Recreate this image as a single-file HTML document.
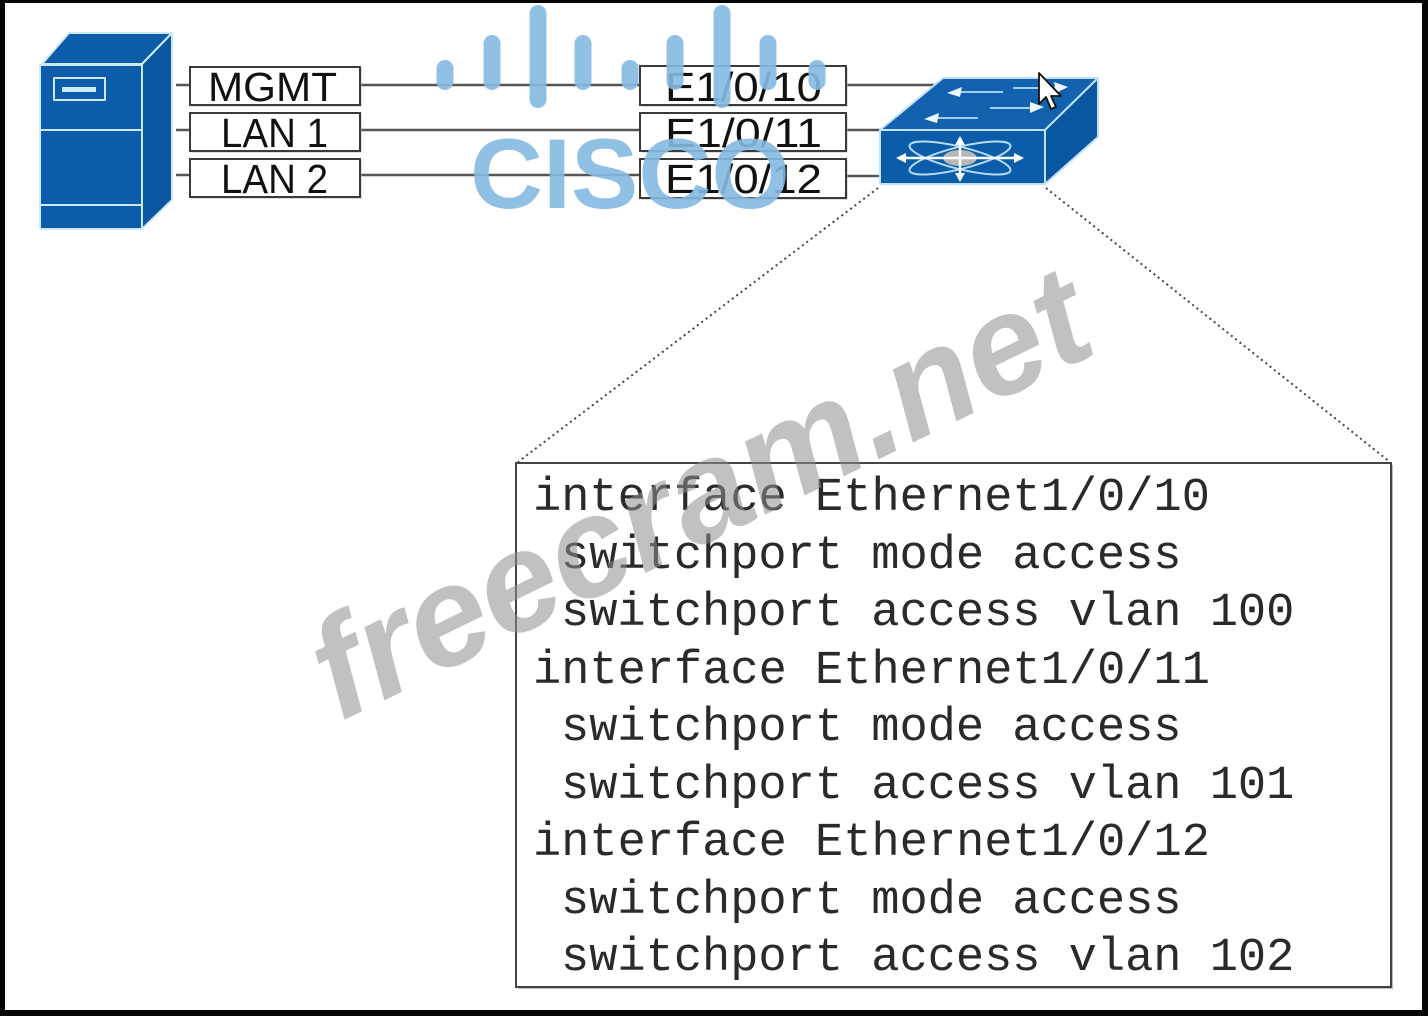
<!DOCTYPE html>
<html><head><meta charset="utf-8"><style>
html,body{margin:0;padding:0;background:#000;}
body{width:1428px;height:1016px;overflow:hidden;}
svg{display:block;}
.code text{white-space:pre;}
</style></head><body>
<svg width="1428" height="1016" viewBox="0 0 1428 1016" xmlns="http://www.w3.org/2000/svg">
<rect x="0" y="0" width="1428" height="1016" fill="#050505"/>
<rect x="5" y="3" width="1417" height="1007" fill="#ffffff"/>

<!-- connecting lines -->
<g stroke="#555" stroke-width="2.5" fill="none">
<line x1="176" y1="85" x2="190" y2="85"/>
<line x1="176" y1="130" x2="190" y2="130"/>
<line x1="176" y1="175" x2="190" y2="175"/>
<line x1="360" y1="85" x2="640" y2="85"/>
<line x1="360" y1="130" x2="640" y2="130"/>
<line x1="360" y1="175" x2="640" y2="175"/>
<line x1="846" y1="85" x2="934" y2="85"/>
<line x1="846" y1="130" x2="880" y2="130"/>
<line x1="846" y1="176" x2="880" y2="176"/>
</g>

<!-- server -->
<g stroke="#cfe8f8" stroke-width="2" stroke-linejoin="round">
<polygon points="42,64 69,33 172,33 142,64" fill="#0b5ca9"/>
<rect x="40" y="65" width="102" height="164" fill="#0b5ca9"/>
<polygon points="142,64 172,33 172,200 142,229" fill="#0a56a0"/>
<line x1="40" y1="130" x2="142" y2="130"/>
<line x1="40" y1="205" x2="142" y2="205"/>
<rect x="54" y="78" width="51" height="22" fill="#0b5ca9"/>
<rect x="62" y="87" width="34" height="5" fill="#cfe8f8" stroke="none"/>
</g>

<!-- label boxes -->
<g fill="#fff" stroke="#3a3a3a" stroke-width="2">
<rect x="191.5" y="68.5" width="170" height="38" fill="#bbb" stroke="none"/>
<rect x="190" y="67" width="170" height="38"/>
<rect x="191.5" y="114.5" width="170" height="38" fill="#bbb" stroke="none"/>
<rect x="190" y="113" width="170" height="38"/>
<rect x="191.5" y="160.5" width="170" height="38" fill="#bbb" stroke="none"/>
<rect x="190" y="159" width="170" height="38"/>
<rect x="641.5" y="67.5" width="206" height="39" fill="#bbb" stroke="none"/>
<rect x="640" y="66" width="206" height="39"/>
<rect x="641.5" y="114.5" width="206" height="38" fill="#bbb" stroke="none"/>
<rect x="640" y="113" width="206" height="38"/>
<rect x="641.5" y="160.5" width="206" height="39" fill="#bbb" stroke="none"/>
<rect x="640" y="159" width="206" height="39"/>
</g>
<g font-family="Liberation Sans, sans-serif" font-size="41" fill="#111">
<text x="208" y="101" textLength="129" lengthAdjust="spacingAndGlyphs">MGMT</text>
<text x="221" y="147" textLength="107" lengthAdjust="spacingAndGlyphs">LAN 1</text>
<text x="221" y="193" textLength="107" lengthAdjust="spacingAndGlyphs">LAN 2</text>
<text x="665" y="101" textLength="157" lengthAdjust="spacingAndGlyphs">E1/0/10</text>
<text x="665" y="147" textLength="157" lengthAdjust="spacingAndGlyphs">E1/0/11</text>
<text x="665" y="193" textLength="157" lengthAdjust="spacingAndGlyphs">E1/0/12</text>
</g>

<!-- switch -->
<g stroke="#bfe2f8" stroke-width="2" stroke-linejoin="round">
<polygon points="880,130 943,78 1098,78 1045,130" fill="#1262ad"/>
<rect x="880" y="130" width="165" height="54" fill="#0b5ca9"/>
<polygon points="1045,130 1098,78 1098,137 1045,184" fill="#0a56a0"/>
</g>
<g stroke="#9fcdf0" stroke-width="2" fill="none">
<line x1="955" y1="92" x2="1003" y2="92"/>
<line x1="932" y1="118" x2="978" y2="118"/>
<line x1="1013" y1="88" x2="1058" y2="88"/>
<line x1="990" y1="108" x2="1030" y2="108"/>
</g>
<g fill="#eef7ff">
<polygon points="947,93 962,87 960,97"/>
<polygon points="924,119 939,113 937,123"/>
<polygon points="1068,87 1054,82 1056,93"/>
<polygon points="1044,107 1030,102 1030,113"/>
</g>
<g stroke="#b5dcf6" stroke-width="2" fill="none">
<ellipse cx="960" cy="158" rx="52" ry="11" transform="rotate(14 960 158)"/>
<ellipse cx="960" cy="158" rx="52" ry="11" transform="rotate(-14 960 158)"/>
</g>
<ellipse cx="960" cy="158" rx="17" ry="8" fill="#b8b8b8"/>
<g stroke="#fff" stroke-width="2.5" fill="none">
<line x1="902" y1="158" x2="1018" y2="158"/>
<line x1="960" y1="141" x2="960" y2="176"/>
</g>
<g fill="#fff">
<polygon points="896,158 906,153 906,163"/>
<polygon points="1024,158 1014,153 1014,163"/>
<polygon points="960,136 955,145 965,145"/>
<polygon points="960,182 955,173 965,173"/>
</g>
<!-- cursor -->
<polygon points="1039,73 1039,104 1046,97 1051,109 1056,107 1051,96 1061,96" fill="#fff" stroke="#111" stroke-width="1.8" stroke-linejoin="round"/>

<!-- dotted lines -->
<g stroke="#444" stroke-width="2" stroke-dasharray="2 3.5" fill="none">
<line x1="878" y1="188" x2="518" y2="462"/>
<line x1="1046" y1="188" x2="1390" y2="462"/>
</g>

<!-- code box -->
<rect x="518" y="465" width="875" height="524" fill="#bdbdbd"/>
<rect x="516" y="463" width="875" height="524" fill="#fff" stroke="#444" stroke-width="2"/>
<g class="code" font-family="Liberation Mono, monospace" font-size="47" fill="#2a2a2a">
<text x="533" y="510">interface Ethernet1/0/10</text>
<text x="561" y="568">switchport mode access</text>
<text x="561" y="625">switchport access vlan 100</text>
<text x="533" y="683">interface Ethernet1/0/11</text>
<text x="561" y="740">switchport mode access</text>
<text x="561" y="798">switchport access vlan 101</text>
<text x="533" y="855">interface Ethernet1/0/12</text>
<text x="561" y="913">switchport mode access</text>
<text x="561" y="970">switchport access vlan 102</text>
</g>

<!-- cisco watermark -->
<g fill="#86bae3" opacity="0.9">
<rect x="436.5" y="60" width="17" height="30" rx="8.5"/>
<rect x="483.5" y="35" width="17" height="55" rx="8.5"/>
<rect x="529.5" y="5" width="17" height="103" rx="8.5"/>
<rect x="574.5" y="35" width="17" height="55" rx="8.5"/>
<rect x="621.5" y="60" width="17" height="30" rx="8.5"/>
<rect x="666.5" y="35" width="17" height="55" rx="8.5"/>
<rect x="713.5" y="5" width="17" height="103" rx="8.5"/>
<rect x="759.5" y="35" width="17" height="55" rx="8.5"/>
<rect x="808.5" y="60" width="17" height="30" rx="8.5"/>
<text x="470" y="208" font-family="Liberation Sans, sans-serif" font-weight="bold" font-size="99" textLength="320" lengthAdjust="spacingAndGlyphs">CISCO</text>
</g>

<!-- freecram watermark -->
<text x="340" y="722" transform="rotate(-26 340 722)" font-family="Liberation Sans, sans-serif" font-weight="bold" font-style="italic" font-size="141" fill="#8f8f8f" opacity="0.55">freecram.net</text>
</svg>
</body></html>
